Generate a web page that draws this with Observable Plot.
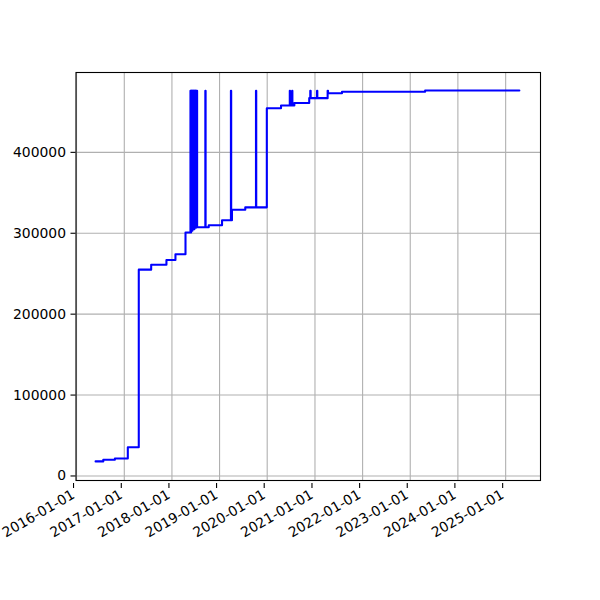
<!DOCTYPE html>
<html>
<head>
<meta charset="utf-8">
<script src="https://cdn.jsdelivr.net/npm/d3@7"></script>
<script src="https://cdn.jsdelivr.net/npm/@observablehq/plot@0.6"></script>
<style>
  html, body { margin: 0; padding: 0; background: #fff; }
  #chart { width: 600px; height: 600px; }
</style>
</head>
<body>
<div id="chart"></div>
<script>
// Step series: dates and values
const dates = [
  "2016-05-26","2016-07-24","2016-10-21","2017-01-28","2017-04-22","2017-07-26",
  "2017-11-20","2018-01-28","2018-04-15",
  "2018-05-23","2018-05-25","2018-05-28","2018-05-30","2018-06-02","2018-06-04",
  "2018-06-07","2018-06-09","2018-06-12","2018-06-14","2018-06-17","2018-06-19",
  "2018-06-22","2018-06-24","2018-06-27","2018-06-29","2018-07-02","2018-07-04",
  "2018-07-07","2018-07-13",
  "2018-09-14","2018-09-16","2018-10-10","2019-01-20","2019-03-29","2019-03-31",
  "2019-04-06","2019-07-17","2019-10-07","2019-10-09","2019-12-29","2020-04-16",
  "2020-06-22","2020-06-24","2020-07-10","2020-07-12","2020-07-27","2020-11-18",
  "2020-11-26","2020-11-29","2021-01-17","2021-01-19","2021-04-08","2021-04-11",
  "2021-07-27","2023-04-25","2025-04-16"
];
const values = [
  18000, 20000, 21600, 35500, 255000, 261000,
  267000, 274000, 301000,
  476000, 301000, 476000, 303000, 476000, 303000,
  476000, 305000, 476000, 305000, 476000, 305000,
  476000, 307000, 476000, 307000, 476000, 307000,
  476000, 307500,
  476000, 307500, 310000, 316000, 476000, 316000,
  329000, 332000, 476000, 332000, 454600, 458000,
  476000, 458000, 476000, 458000, 461000, 467000,
  476000, 467000, 476000, 467000, 476000, 473000,
  475000, 476500, 476500
];
const xTickLabels = ["2016-01-01","2017-01-01","2018-01-01","2019-01-01","2020-01-01",
  "2021-01-01","2022-01-01","2023-01-01","2024-01-01","2025-01-01"];
const yTicks = [0, 100000, 200000, 300000, 400000];

const data = dates.map((d, i) => ({date: new Date(d + "T00:00:00Z"), value: values[i]}));
const xTicks = xTickLabels.map(s => new Date(s + "T00:00:00Z"));

const chart = Plot.plot({
  width: 600,
  height: 600,
  marginLeft: 75.5,
  marginRight: 60,
  marginTop: 72,
  marginBottom: 120,
  style: {fontFamily: "DejaVu Sans", fontSize: "13.9px", color: "black", background: "white"},
  x: {type: "utc", domain: [new Date("2015-12-28T00:00:00Z"), new Date("2025-09-25T00:00:00Z")]},
  y: {domain: [-5600, 498700]},
  marks: [
    Plot.gridX(xTicks, {stroke: "#b0b0b0", strokeOpacity: 1, strokeWidth: 1.1}),
    Plot.gridY(yTicks, {stroke: "#b0b0b0", strokeOpacity: 1, strokeWidth: 1.1}),
    Plot.line(data, {x: "date", y: "value", curve: "step-after", stroke: "#0000ff", strokeWidth: 2.08}),
    Plot.frame({stroke: "black", strokeWidth: 1.1}),
    Plot.axisY(yTicks, {tickFormat: d3.format("d"), tickSize: 5, tickPadding: 5, fontSize: 13.9, strokeWidth: 1.1, label: null}),
    Plot.axisX(xTicks, {tickFormat: d3.utcFormat("%Y-%m-%d"), tickRotate: -30, tickSize: 5, tickPadding: 5, fontSize: 13.9, strokeWidth: 1.1, dx: -3, dy: 3, label: null})
  ]
});
document.getElementById("chart").appendChild(chart);
</script>
</body>
</html>
